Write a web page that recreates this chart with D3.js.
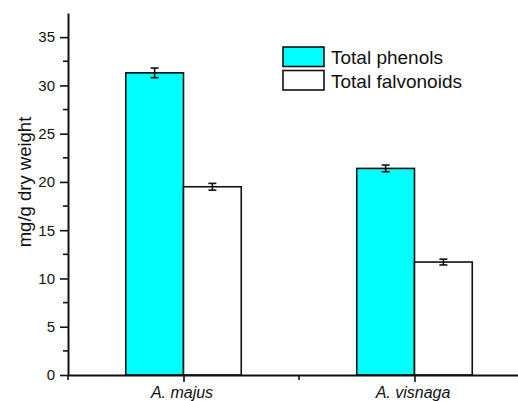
<!DOCTYPE html>
<html>
<head>
<meta charset="utf-8">
<script src="https://cdn.jsdelivr.net/npm/d3@7"></script>
<style>
  html, body { margin: 0; padding: 0; background: #fff; }
  svg { display: block; }
  text { font-family: "Liberation Sans", Arial, sans-serif; fill: #111; }
</style>
</head>
<body>
<svg id="chart" width="518" height="401"></svg>
<script>
// Species on the x axis (placed at positions 1 and 2)
const categories = ["A. majus", "A. visnaga"];
const seriesNames = ["Total phenols", "Total falvonoids"];
const seriesColors = ["#00ffff", "#ffffff"];
// Means and standard errors, mg/g dry weight
const phenols = [31.3, 21.4];
const phenolsErr = [0.5, 0.35];
const flavonoids = [19.5, 11.7];
const flavonoidsErr = [0.35, 0.3];
const yTicks = [0, 5, 10, 15, 20, 25, 30, 35];

const svg = d3.select("#chart");
const x = d3.scaleLinear().domain([0.5, 2.5]).range([68, 530]);
const y = d3.scaleLinear().domain([0, 37.5]).range([375, 13]);
const barW = x(1.25) - x(1);

const series = [
  { values: phenols, errs: phenolsErr, offset: -1 },
  { values: flavonoids, errs: flavonoidsErr, offset: 0 }
];

// Bars
series.forEach((s, si) => {
  const g = svg.append("g");
  g.selectAll("rect").data(s.values).join("rect")
    .attr("x", (d, i) => x(i + 1) + s.offset * barW)
    .attr("y", d => y(d))
    .attr("width", barW)
    .attr("height", d => y(0) - y(d))
    .attr("fill", seriesColors[si])
    .attr("stroke", "#111")
    .attr("stroke-width", 1.6);
  // Error bars
  s.values.forEach((v, i) => {
    const cx = x(i + 1) + s.offset * barW + barW / 2;
    const e = s.errs[i];
    const eb = g.append("g").attr("stroke", "#111").attr("stroke-width", 1.6);
    eb.append("line").attr("x1", cx).attr("x2", cx).attr("y1", y(v + e)).attr("y2", y(v - e));
    eb.append("line").attr("x1", cx - 4).attr("x2", cx + 4).attr("y1", y(v + e)).attr("y2", y(v + e));
    eb.append("line").attr("x1", cx - 4).attr("x2", cx + 4).attr("y1", y(v - e)).attr("y2", y(v - e));
  });
});

// Y axis with minor ticks
const yAxis = svg.append("g").attr("transform", `translate(${x(0.5)},0)`);
yAxis.call(d3.axisLeft(y).tickValues(yTicks).tickSize(8).tickPadding(5).tickSizeOuter(0));
yAxis.append("g").selectAll("line")
  .data(d3.range(2.5, 37.5, 5)).join("line")
  .attr("x1", 0).attr("x2", -5).attr("y1", d => y(d)).attr("y2", d => y(d))
  .attr("stroke", "#111").attr("stroke-width", 1.6);
yAxis.select(".domain").attr("stroke", "#111").attr("stroke-width", 2);
yAxis.selectAll(".tick line").attr("stroke", "#111").attr("stroke-width", 1.6);
yAxis.selectAll(".tick text").style("font-size", "15px").attr("fill", "#111");

// X axis
const xAxis = svg.append("g").attr("transform", `translate(0,${y(0)})`);
xAxis.call(d3.axisBottom(x).tickValues([1, 2]).tickFormat((d, i) => categories[i])
  .tickSize(7).tickPadding(5).tickSizeOuter(0));
xAxis.append("g").selectAll("line").data([0.5, 1.5]).join("line")
  .attr("x1", d => x(d)).attr("x2", d => x(d)).attr("y1", 0).attr("y2", 5)
  .attr("stroke", "#111").attr("stroke-width", 1.6);
xAxis.select(".domain").attr("stroke", "#111").attr("stroke-width", 2);
xAxis.selectAll(".tick line").attr("stroke", "#111").attr("stroke-width", 1.6);
xAxis.selectAll(".tick text").style("font-size", "16px").style("font-style", "italic")
  .attr("dx", "-2px").attr("fill", "#111");

// Y axis title
svg.append("text")
  .attr("transform", "translate(31,182) rotate(-90)")
  .attr("text-anchor", "middle")
  .style("font-size", "18.5px")
  .text("mg/g dry weight");

// Legend
const legend = svg.append("g").attr("transform", "translate(283,47)");
seriesNames.forEach((name, i) => {
  const row = legend.append("g").attr("transform", `translate(0,${i * 23.5})`);
  row.append("rect").attr("width", 41).attr("height", 19.5)
    .attr("fill", seriesColors[i]).attr("stroke", "#111").attr("stroke-width", 1.6);
  row.append("text").attr("x", 48).attr("y", 17).style("font-size", "19px").text(name);
});
</script>
</body>
</html>
